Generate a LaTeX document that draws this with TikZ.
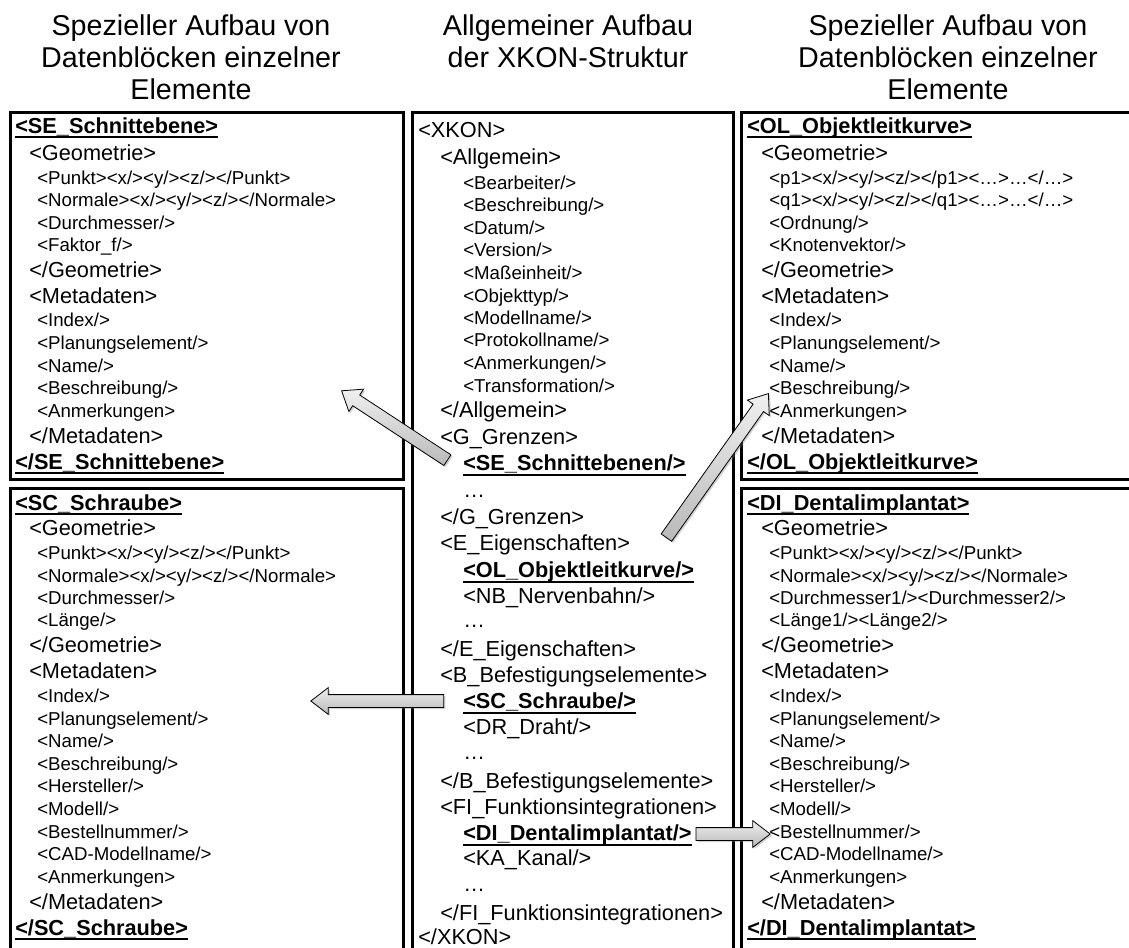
\documentclass[tikz,border=0pt]{standalone}
\usepackage{fontspec}
\setmainfont{Liberation Sans}
\usetikzlibrary{positioning,calc,shapes.arrows,shadows}

% thick underline for the element tags
\newcommand\tagline[1]{\setbox0=\hbox{#1}\rlap{\rule[-4.1pt]{\wd0}{1.5pt}}\box0}

\tikzset{
  title/.style={anchor=north, inner sep=0pt, align=center, font=\fontsize{21.5}{24}\selectfont},
  block/.style={draw, line width=2.25pt},
  tagbig/.style={anchor=base west, inner sep=0pt, font=\fontsize{16.3}{18}\selectfont},
  tagsmall/.style={anchor=base west, inner sep=0pt, font=\fontsize{14}{16}\selectfont},
  taghead/.style={anchor=base west, inner sep=0pt, font=\fontsize{16.3}{18}\selectfont\bfseries},
  pointer/.style={single arrow, draw, line width=0.6pt, inner xsep=0pt, inner ysep=4.5pt,
    minimum width=19.5pt, single arrow head extend=5.25pt, single arrow tip angle=75,
    top color=gray!12, bottom color=gray!55,
    drop shadow={opacity=0.35, shadow xshift=1.2pt, shadow yshift=-1.2pt}}
}

% block arrow from #1 to #2
\newcommand\linkarrow[2]{%
  \path let \p1=($(#2)-(#1)$), \n1={atan2(\y1,\x1)}, \n2={veclen(\x1,\y1)} in
    node[pointer, minimum height=\n2, rotate=\n1] at ($(#1)!0.5!(#2)$) {};}

\begin{document}
\begin{tikzpicture}[x=0.75pt, y=-0.75pt]
	\clip (0,0) rectangle (1129,947);
	\fill[white] (0,0) rectangle (1129,947);

	% headings
	\node[title] (t-left) at (191,14) {Spezieller Aufbau von\\Datenblöcken einzelner\\Elemente};
	\node[title] (t-mid) at (568,14) {Allgemeiner Aufbau\\der XKON-Struktur};
	\node[title] (t-right) at (948,14) {Spezieller Aufbau von\\Datenblöcken einzelner\\Elemente};

	% frames
	\draw[block] (10,112) rectangle (403,479);
	\draw[block] (10,488) rectangle (403,990);
	\draw[block] (412,112) rectangle (733,990);
	\draw[block] (741,112) rectangle (1160,479);
	\draw[block] (741,488) rectangle (1160,990);

	% SE_Schnittebene
	\node[taghead] (se1) at (15,133) {\tagline{<SE\_Schnittebene>}};
	\node[tagbig] (se2) at (29,160) {<Geometrie>};
	\node[tagsmall] (se3) at (37,184) {<Punkt><x/><y/><z/></Punkt>};
	\node[tagsmall] (se4) at (37,206) {<Normale><x/><y/><z/></Normale>};
	\node[tagsmall] (se5) at (37,229) {<Durchmesser/>};
	\node[tagsmall] (se6) at (37,251) {<Faktor\_f/>};
	\node[tagbig] (se7) at (29,277) {</Geometrie>};
	\node[tagbig] (se8) at (29,303) {<Metadaten>};
	\node[tagsmall] (se9) at (37,326) {<Index/>};
	\node[tagsmall] (se10) at (37,349) {<Planungselement/>};
	\node[tagsmall] (se11) at (37,372) {<Name/>};
	\node[tagsmall] (se12) at (37,394) {<Beschreibung/>};
	\node[tagsmall] (se13) at (37,417) {<Anmerkungen>};
	\node[tagbig] (se14) at (29,443) {</Metadaten>};
	\node[taghead] (se15) at (15,469) {\tagline{</SE\_Schnittebene>}};

	% SC_Schraube
	\node[taghead] (sc1) at (15,510) {\tagline{<SC\_Schraube>}};
	\node[tagbig] (sc2) at (29,535) {<Geometrie>};
	\node[tagsmall] (sc3) at (37,559) {<Punkt><x/><y/><z/></Punkt>};
	\node[tagsmall] (sc4) at (37,582) {<Normale><x/><y/><z/></Normale>};
	\node[tagsmall] (sc5) at (37,604) {<Durchmesser/>};
	\node[tagsmall] (sc6) at (37,626) {<Länge/>};
	\node[tagbig] (sc7) at (29,652) {</Geometrie>};
	\node[tagbig] (sc8) at (29,678) {<Metadaten>};
	\node[tagsmall] (sc9) at (37,702) {<Index/>};
	\node[tagsmall] (sc10) at (37,725) {<Planungselement/>};
	\node[tagsmall] (sc11) at (37,747) {<Name/>};
	\node[tagsmall] (sc12) at (37,770) {<Beschreibung/>};
	\node[tagsmall] (sc13) at (37,792) {<Hersteller/>};
	\node[tagsmall] (sc14) at (37,815) {<Modell/>};
	\node[tagsmall] (sc15) at (37,838) {<Bestellnummer/>};
	\node[tagsmall] (sc16) at (37,860) {<CAD-Modellname/>};
	\node[tagsmall] (sc17) at (37,883) {<Anmerkungen>};
	\node[tagbig] (sc18) at (29,909) {</Metadaten>};
	\node[taghead] (sc19) at (15,935) {\tagline{</SC\_Schraube>}};

	% XKON
	\node[tagbig] (x1) at (418,137.5) {<XKON>};
	\node[tagbig] (x2) at (440,164.5) {<Allgemein>};
	\node[tagsmall] (x3) at (463,189.5) {<Bearbeiter/>};
	\node[tagsmall] (x4) at (463,211.5) {<Beschreibung/>};
	\node[tagsmall] (x5) at (463,234.5) {<Datum/>};
	\node[tagsmall] (x6) at (463,256.5) {<Version/>};
	\node[tagsmall] (x7) at (463,279.5) {<Maßeinheit/>};
	\node[tagsmall] (x8) at (463,302.5) {<Objekttyp/>};
	\node[tagsmall] (x9) at (463,324.5) {<Modellname/>};
	\node[tagsmall] (x10) at (463,346.5) {<Protokollname/>};
	\node[tagsmall] (x11) at (463,369.5) {<Anmerkungen/>};
	\node[tagsmall] (x12) at (463,392.5) {<Transformation/>};
	\node[tagbig] (x13) at (440,417.5) {</Allgemein>};
	\node[tagbig] (x14) at (440,444.5) {<G\_Grenzen>};
	\node[taghead] (xkon-se) at (463,470.5) {\tagline{<SE\_Schnittebenen/>}};
	\node[tagbig] (x16) at (463,497) {…};
	\node[tagbig] (x17) at (440,524.5) {</G\_Grenzen>};
	\node[tagbig] (x18) at (440,550.5) {<E\_Eigenschaften>};
	\node[taghead] (xkon-ol) at (463,577.5) {\tagline{<OL\_Objektleitkurve/>}};
	\node[tagbig] (x20) at (463,603.5) {<NB\_Nervenbahn/>};
	\node[tagbig] (x21) at (463,627) {…};
	\node[tagbig] (x22) at (440,656.5) {</E\_Eigenschaften>};
	\node[tagbig] (x23) at (440,682.5) {<B\_Befestigungselemente>};
	\node[taghead] (xkon-sc) at (463,708.5) {\tagline{<SC\_Schraube/>}};
	\node[tagbig] (x25) at (463,734.5) {<DR\_Draht/>};
	\node[tagbig] (x26) at (463,759) {…};
	\node[tagbig] (x27) at (440,788.5) {</B\_Befestigungselemente>};
	\node[tagbig] (x28) at (440,814.5) {<FI\_Funktionsintegrationen>};
	\node[taghead] (xkon-di) at (463,840.5) {\tagline{<DI\_Dentalimplantat/>}};
	\node[tagbig] (x30) at (463,865.5) {<KA\_Kanal/>};
	\node[tagbig] (x31) at (463,891) {…};
	\node[tagbig] (x32) at (440,920.5) {</FI\_Funktionsintegrationen>};
	\node[tagbig] (x33) at (418,944.5) {</XKON>};

	% OL_Objektleitkurve
	\node[taghead] (ol1) at (747,133) {\tagline{<OL\_Objektleitkurve>}};
	\node[tagbig] (ol2) at (761,160) {<Geometrie>};
	\node[tagsmall] (ol3) at (769,184) {<p1><x/><y/><z/></p1><…>…</…>};
	\node[tagsmall] (ol4) at (769,206) {<q1><x/><y/><z/></q1><…>…</…>};
	\node[tagsmall] (ol5) at (769,229) {<Ordnung/>};
	\node[tagsmall] (ol6) at (769,251) {<Knotenvektor/>};
	\node[tagbig] (ol7) at (761,277) {</Geometrie>};
	\node[tagbig] (ol8) at (761,303) {<Metadaten>};
	\node[tagsmall] (ol9) at (769,326) {<Index/>};
	\node[tagsmall] (ol10) at (769,349) {<Planungselement/>};
	\node[tagsmall] (ol11) at (769,372) {<Name/>};
	\node[tagsmall] (ol12) at (769,394) {<Beschreibung/>};
	\node[tagsmall] (ol13) at (769,417) {<Anmerkungen>};
	\node[tagbig] (ol14) at (761,443) {</Metadaten>};
	\node[taghead] (ol15) at (747,469) {\tagline{</OL\_Objektleitkurve>}};

	% DI_Dentalimplantat
	\node[taghead] (di1) at (747,510) {\tagline{<DI\_Dentalimplantat>}};
	\node[tagbig] (di2) at (761,535) {<Geometrie>};
	\node[tagsmall] (di3) at (769,559) {<Punkt><x/><y/><z/></Punkt>};
	\node[tagsmall] (di4) at (769,582) {<Normale><x/><y/><z/></Normale>};
	\node[tagsmall] (di5) at (769,604) {<Durchmesser1/><Durchmesser2/>};
	\node[tagsmall] (di6) at (769,626) {<Länge1/><Länge2/>};
	\node[tagbig] (di7) at (761,652) {</Geometrie>};
	\node[tagbig] (di8) at (761,678) {<Metadaten>};
	\node[tagsmall] (di9) at (769,702) {<Index/>};
	\node[tagsmall] (di10) at (769,725) {<Planungselement/>};
	\node[tagsmall] (di11) at (769,747) {<Name/>};
	\node[tagsmall] (di12) at (769,770) {<Beschreibung/>};
	\node[tagsmall] (di13) at (769,792) {<Hersteller/>};
	\node[tagsmall] (di14) at (769,815) {<Modell/>};
	\node[tagsmall] (di15) at (769,838) {<Bestellnummer/>};
	\node[tagsmall] (di16) at (769,860) {<CAD-Modellname/>};
	\node[tagsmall] (di17) at (769,883) {<Anmerkungen>};
	\node[tagbig] (di18) at (761,909) {</Metadaten>};
	\node[taghead] (di19) at (747,935) {\tagline{</DI\_Dentalimplantat>}};

	% arrow ends
	\coordinate (se-tip) at (345,393);
	\coordinate (ol-tip) at (766,397);
	\coordinate (sc-tip) at (315,701);
	\coordinate (di-tip) at (766,834);
	\coordinate (se-tail) at ($(xkon-se.base west)+(-12,-8)$);
	\coordinate (ol-tail) at (664,541);
	\coordinate (sc-tail) at ($(xkon-sc.base west)+(-15,-7.5)$);
	\coordinate (di-tail) at ($(xkon-di.base east)+(0,-6.5)$);

	\linkarrow{se-tail}{se-tip}
	\linkarrow{ol-tail}{ol-tip}
	\linkarrow{sc-tail}{sc-tip}
	\linkarrow{di-tail}{di-tip}
\end{tikzpicture}
\end{document}
